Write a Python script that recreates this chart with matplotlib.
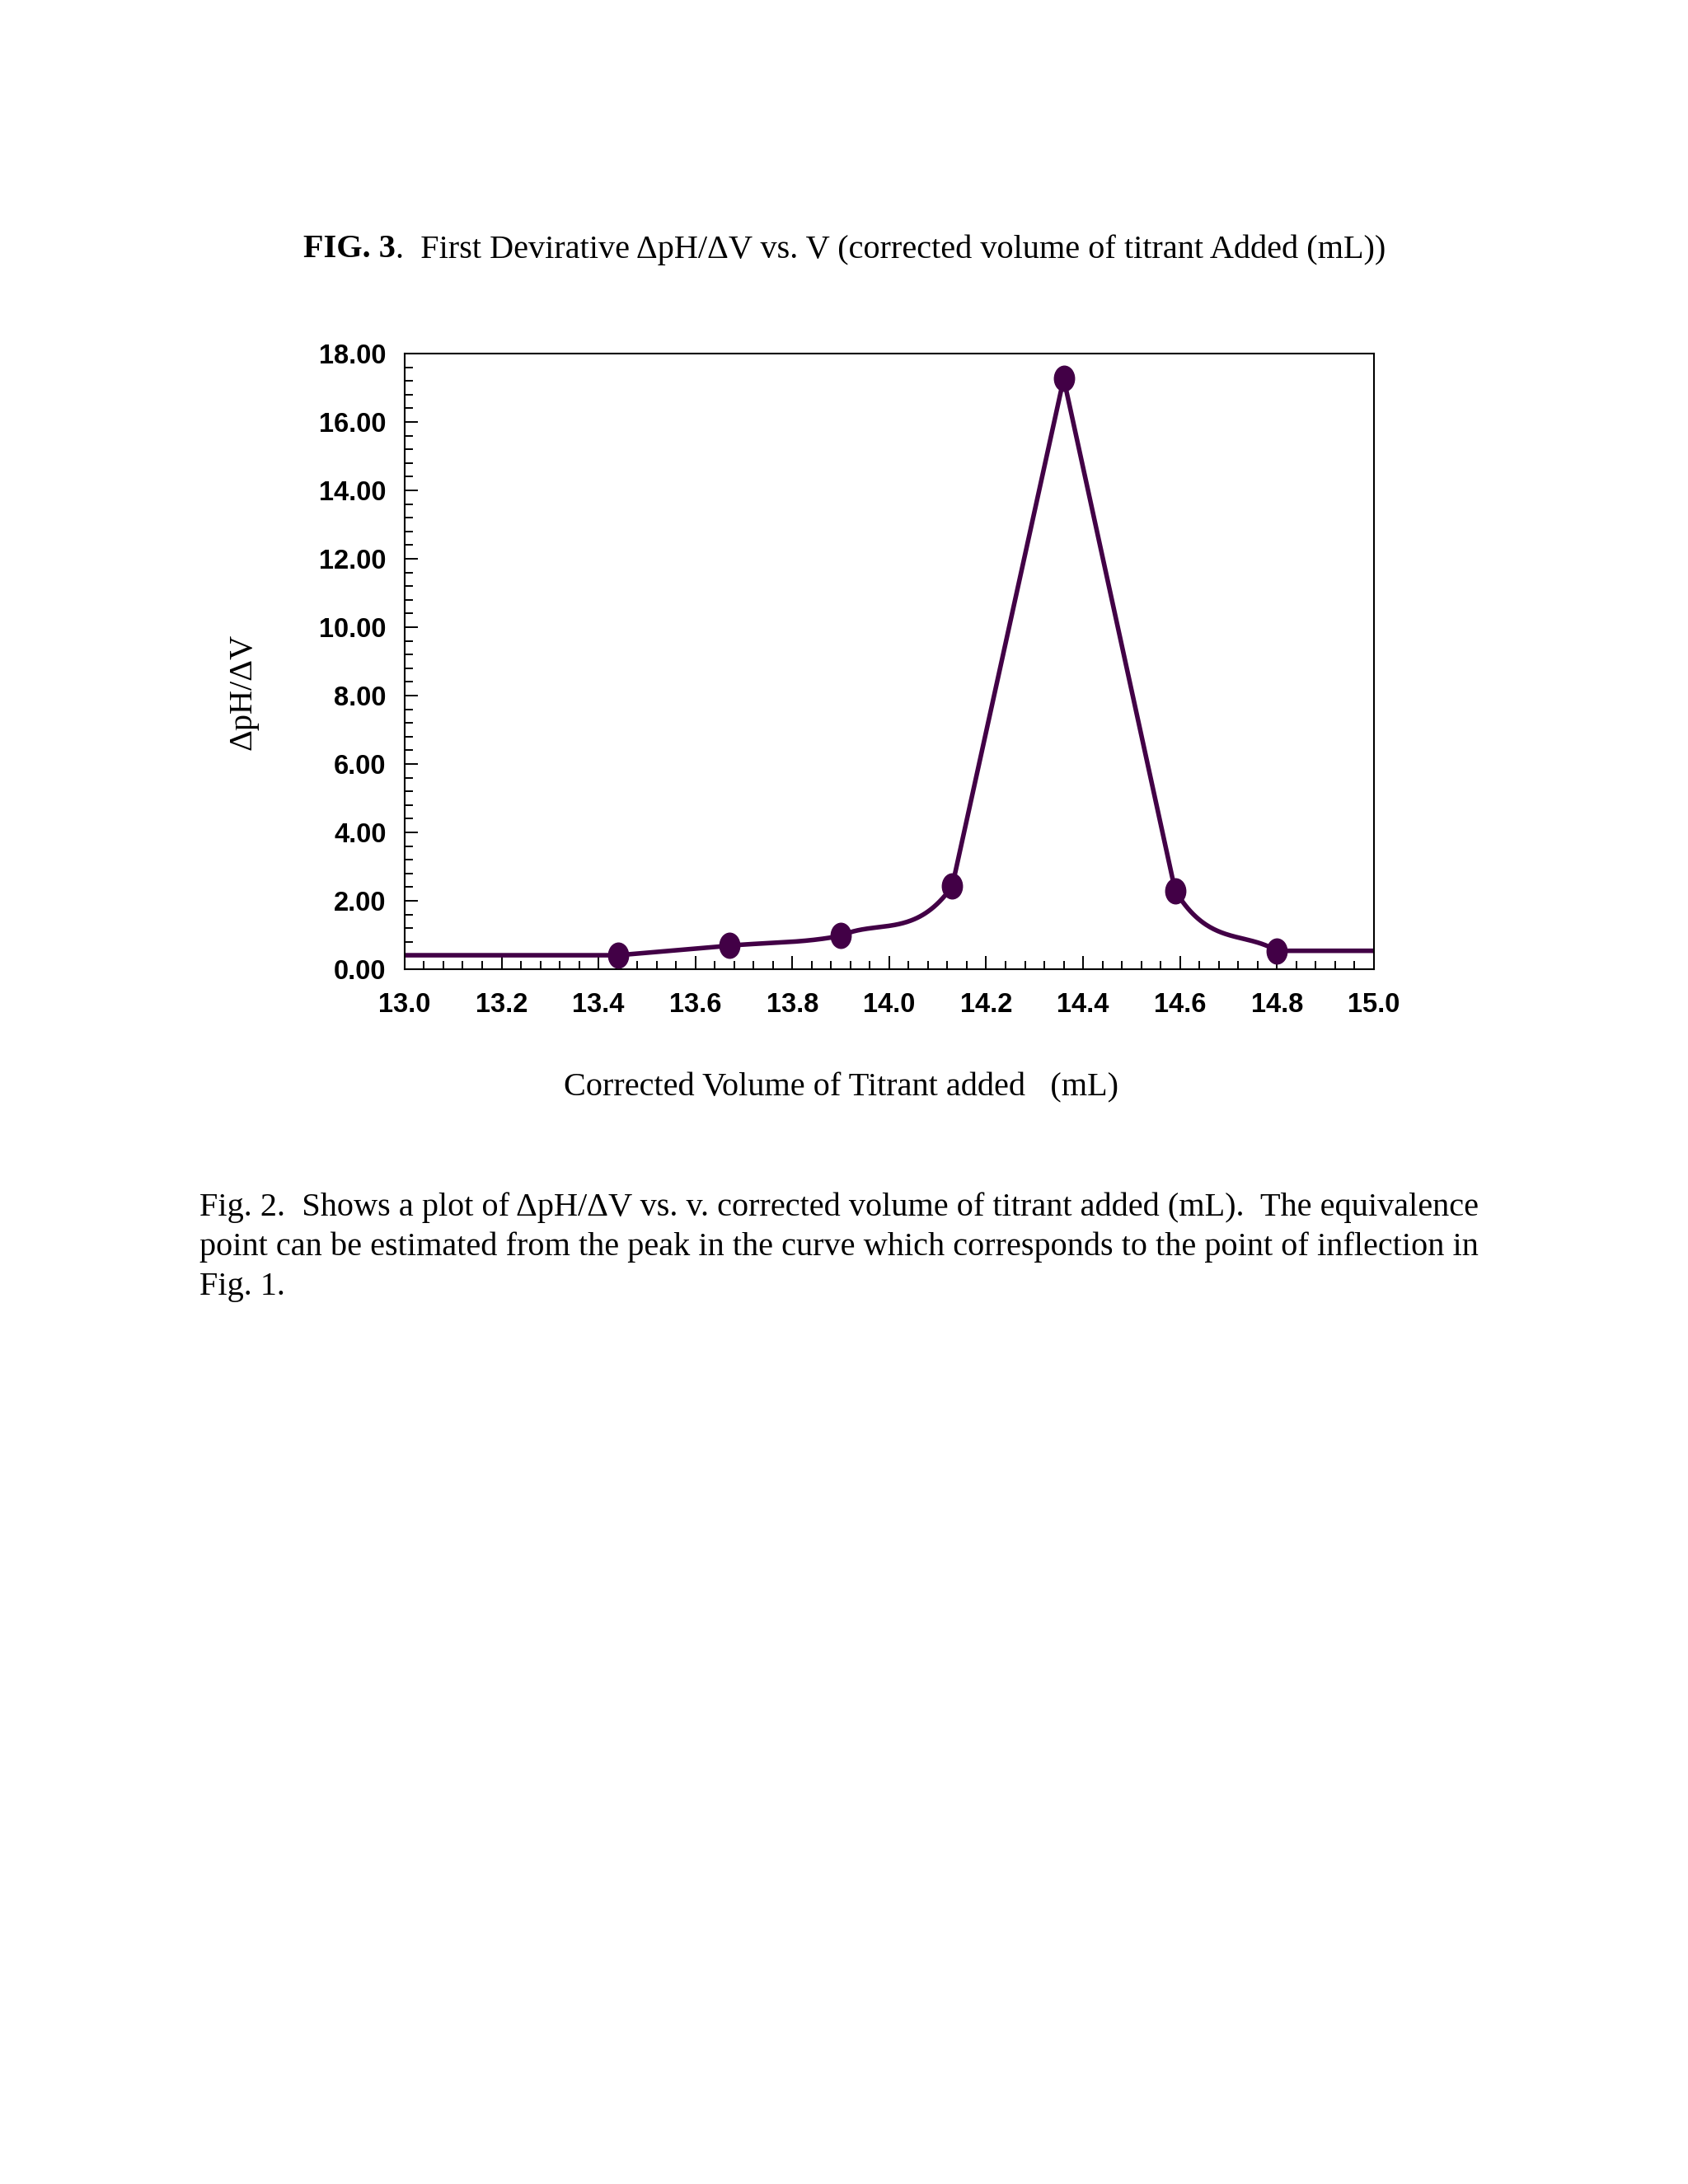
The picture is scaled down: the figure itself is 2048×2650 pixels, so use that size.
#first derivative titration curve: dpH/dV against corrected volume of titrant

import numpy as np
import matplotlib
matplotlib.use('Agg')
import matplotlib.pyplot as plt
from matplotlib.path import Path
from matplotlib.transforms import Affine2D
from matplotlib.ticker import MultipleLocator, FormatStrFormatter

volume = [13.44, 13.67, 13.90, 14.13, 14.36, 14.59, 14.80]
dph_dv = [0.41, 0.69, 0.98, 2.43, 17.27, 2.30, 0.54]

x_limits = [13.0, 15.0]
y_limits = [0.0, 18.0]

title_bold = 'FIG. 3'
title_rest = '.  First Devirative \u0394pH/\u0394V vs. V (corrected volume of titrant Added (mL))'
x_label = 'Corrected Volume of Titrant added   (mL)'
y_label = '\u0394pH/\u0394V'
caption_lines = [
    'Fig. 2.  Shows a plot of \u0394pH/\u0394V vs. v. corrected volume of titrant added (mL).  The equivalence',
    'point can be estimated from the peak in the curve which corresponds to the point of inflection in',
    'Fig. 1.',
]

line_color = '#420046'
serif = ['Liberation Serif', 'DejaVu Serif']
bold_sans = ['Liberation Sans', 'DejaVu Sans']


def smooth_line(x, y, n=80):
    """curve through the points for drawing: steep pieces stay straight,
    shallow pieces bend towards a steeper neighbour"""
    x = np.asarray(x, float)
    y = np.asarray(y, float)
    h = np.diff(x)
    d = np.diff(y) / h

    def tangent(own, other):
        if other is None or own * other <= 0 or abs(own) >= abs(other):
            return own
        return np.sign(own) * np.sqrt(own * other)

    xs, ys = [], []
    for i in range(len(h)):
        m0 = tangent(d[i], d[i - 1] if i > 0 else None)
        m1 = tangent(d[i], d[i + 1] if i < len(h) - 1 else None)
        t = np.linspace(0, 1, n)
        h00 = 2 * t**3 - 3 * t**2 + 1
        h10 = t**3 - 2 * t**2 + t
        h01 = -2 * t**3 + 3 * t**2
        h11 = t**3 - t**2
        xs.append(x[i] + t * h[i])
        ys.append(h00 * y[i] + h10 * h[i] * m0 + h01 * y[i + 1] + h11 * h[i] * m1)
    return np.concatenate(xs), np.concatenate(ys)


fig = plt.figure(figsize=(20.48, 26.5), dpi=100)
ax = fig.add_axes([0.2397, 0.5562, 0.5742, 0.2819])

# line runs flat out to both edges of the axis
line_x = [x_limits[0]] + volume + [x_limits[1]]
line_y = [dph_dv[0]] + dph_dv + [dph_dv[-1]]
sx, sy = smooth_line(line_x, line_y)
ax.plot(sx, sy, color=line_color, linewidth=4, solid_joinstyle='round', zorder=2)

ellipse = Path.unit_circle().transformed(Affine2D().scale(0.8, 1.0))
ax.plot(volume, dph_dv, linestyle='none', marker=ellipse, markersize=22,
        color=line_color, markeredgecolor=line_color, zorder=3, clip_on=False)

ax.set_xlim(x_limits)
ax.set_ylim(y_limits)
ax.xaxis.set_major_locator(MultipleLocator(0.2))
ax.xaxis.set_minor_locator(MultipleLocator(0.04))
ax.yaxis.set_major_locator(MultipleLocator(2))
ax.yaxis.set_minor_locator(MultipleLocator(0.4))
ax.xaxis.set_major_formatter(FormatStrFormatter('%.1f'))
ax.yaxis.set_major_formatter(FormatStrFormatter('%.2f'))

ax.tick_params(which='both', direction='in', top=False, right=False, width=1.4)
ax.tick_params(which='major', length=11.5)
ax.tick_params(which='minor', length=7)
ax.tick_params(axis='x', which='major', pad=20)
ax.tick_params(axis='y', which='major', pad=16)
for lab in ax.get_xticklabels() + ax.get_yticklabels():
    lab.set_family(bold_sans)
    lab.set_fontweight('bold')
    lab.set_fontsize(23.5)
for sp in ax.spines.values():
    sp.set_linewidth(1.5)

# titles and labels as page text
renderer = fig.canvas.get_renderer()
t1 = fig.text(0.1798, 1 - 303 / 2650, title_bold, family=serif, fontsize=29,
              fontweight='bold', va='center', ha='left')
bb = t1.get_window_extent(renderer)
fig.text(bb.x1 / fig.bbox.width, 1 - 303 / 2650, title_rest, family=serif,
         fontsize=29, va='center', ha='left')

fig.text(295 / 2048, 1 - 839 / 2650, y_label, family=serif, fontsize=29,
         rotation=90, va='center', ha='center')
fig.text(1021 / 2048, 1 - 1320 / 2650, x_label, family=serif, fontsize=29,
         va='center', ha='center')

for i, line in enumerate(caption_lines):
    fig.text(242 / 2048, 1 - (1465 + 48.5 * i) / 2650, line, family=serif,
             fontsize=29, va='center', ha='left')

fig.savefig('out.png', dpi=100, facecolor='white')
